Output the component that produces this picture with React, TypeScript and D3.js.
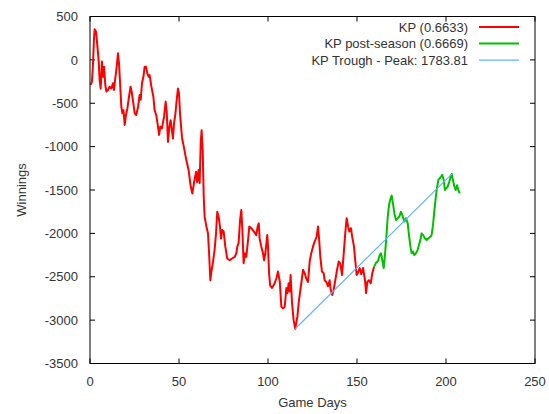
import * as React from "react";
import * as d3 from "d3";

// winnings per game day
const kpRegular: [number, number][] = [
  [0.4, -290], [1.1, -250], [1.7, -40], [2.2, 230], [2.6, 352], [3.4, 325], [4.1, 170], [4.9, -20],
  [5.4, -230], [6, -330], [6.7, -20], [7.3, -195], [7.9, -80], [8.6, -290], [9.2, -365], [10, -350],
  [11, -310], [12, -330], [12.9, -270], [13.5, -347], [14.2, -212], [15, -80], [15.7, 75], [16.3, -40],
  [16.9, -270], [17.6, -540], [18.2, -615], [18.8, -580], [19.5, -750], [20.2, -635], [21, -560],
  [21.9, -425], [22.8, -310], [23.4, -365], [24.2, -480], [25.1, -615], [26, -635], [27, -540],
  [27.9, -405], [28.5, -460], [29.2, -270], [30, -195], [30.7, -80], [31.5, -80], [32.2, -155],
  [33, -195], [33.5, -175], [34.5, -310], [35.6, -425], [36.3, -580], [37.2, -635], [38.2, -770],
  [38.8, -865], [39.5, -770], [40.4, -790], [41.6, -655], [42.5, -480], [43.1, -595], [43.8, -945],
  [44.6, -770], [45.3, -695], [46, -810], [46.6, -905], [47.2, -735], [47.9, -635], [48.9, -425],
  [49.4, -330], [50, -390], [50.7, -655], [51.7, -900], [52.5, -980], [54.1, -1155], [55.4, -1270],
  [56.6, -1460], [57.5, -1540], [58.4, -1420], [59.6, -1290], [60.2, -1410], [61, -1270], [61.6, -1420],
  [62.2, -960], [62.7, -810], [63.3, -1040], [63.9, -1580], [64.4, -1810], [65.4, -1920], [66.3, -2000],
  [67, -2270], [67.6, -2540], [68.2, -2440], [69.1, -2330], [70, -2190], [70.8, -2000], [71.5, -1750],
  [72.3, -1810], [73, -1920], [73.6, -2060], [74.3, -1960], [75.1, -1980], [76, -2150], [77.1, -2290],
  [78.5, -2310], [79.8, -2290], [81.3, -2270], [82.2, -2230], [82.8, -2150], [83.5, -2110], [84.3, -1850],
  [85, -1730], [85.6, -1960], [86.3, -2345], [87, -2230], [87.8, -2270], [88.8, -2075], [89.5, -1920],
  [90.6, -1940], [92.1, -1980], [93.4, -2020], [94.2, -1920], [94.8, -1885], [95.3, -2060], [96.2, -2150],
  [97.2, -2230], [97.8, -2310], [98.5, -2230], [99.1, -2115], [99.6, -2020], [100, -2150], [100.6, -2460],
  [101.2, -2600], [102.2, -2630], [103.4, -2590], [104.7, -2520], [105.6, -2440], [106.6, -2550],
  [107.5, -2845], [108.4, -2865], [109.4, -2845], [110.3, -2630], [110.9, -2690], [111.6, -2575],
  [112.2, -2670], [112.7, -2480], [113.5, -2805], [114.4, -3000], [115.3, -3100], [116.5, -2960],
  [117.4, -2770], [118.7, -2575], [119.7, -2420], [120.6, -2460], [121.5, -2520], [122.5, -2560],
  [123.4, -2325], [124.3, -2230], [125.3, -2150], [126.2, -2095], [127.3, -2040], [128.1, -1920],
  [128.7, -2065], [129.4, -2270], [130.3, -2440], [131.3, -2460], [131.8, -2540], [132.8, -2560],
  [133.7, -2610], [134.6, -2540], [135.2, -2650], [136.1, -2710], [136.9, -2650], [137.8, -2540],
  [138.8, -2420], [139.7, -2325], [140.6, -2345], [141.6, -2480], [142.7, -2190], [143.4, -2000],
  [144.2, -1825], [145, -1920], [145.7, -1980], [146.6, -1940], [147.3, -2040], [148.3, -2150],
  [149, -2310], [149.8, -2480], [150.6, -2450], [151.5, -2400], [152.4, -2470], [153.4, -2400],
  [154.5, -2540], [155.1, -2690], [155.8, -2560], [156.7, -2540], [157.7, -2575], [158.6, -2460],
  [159.6, -2385],
];

const kpPost: [number, number][] = [
  [159.6, -2385], [160.5, -2345], [161.2, -2330], [162, -2310], [162.7, -2250], [163.5, -2230],
  [164.2, -2310], [165, -2400], [165.7, -2250], [166.5, -2040], [167.2, -1825], [168, -1670],
  [168.9, -1595], [169.5, -1565], [170.2, -1655], [171, -1770], [171.9, -1845], [172.9, -1825],
  [173.8, -1805], [174.7, -1750], [175.7, -1805], [176.6, -1865], [177.5, -1825], [178.5, -1885],
  [179.2, -2020], [180, -2150], [180.7, -2230], [181.5, -2210], [182.2, -2250], [183.1, -2230],
  [184.1, -2190], [184.8, -2135], [185.6, -2075], [186.3, -2000], [187.2, -2020], [188.2, -2060],
  [189.1, -2075], [190, -2060], [191.2, -2040], [191.9, -2020], [192.7, -1905], [193.4, -1750],
  [194.2, -1595], [194.9, -1480], [195.7, -1385], [196.4, -1365], [197.2, -1345], [197.9, -1325],
  [198.7, -1385], [199.4, -1500], [200.1, -1480], [200.9, -1460], [201.6, -1425], [202.4, -1365],
  [203.2, -1316], [203.9, -1385], [204.7, -1460], [205.4, -1500], [206.2, -1445], [206.9, -1500],
  [207.7, -1540],
];

// trough (day, winnings) -> peak (day, winnings)
const troughPeak: [number, number][] = [
  [115.3, -3100],
  [203.2, -1316.19],
];

const xTicks = [0, 50, 100, 150, 200, 250];
const yTicks = [500, 0, -500, -1000, -1500, -2000, -2500, -3000, -3500];

const legendItems = [
  { label: "KP (0.6633)", color: "#ff0000", width: 2 },
  { label: "KP post-season (0.6669)", color: "#00c000", width: 2 },
  { label: "KP Trough - Peak: 1783.81", color: "#66b2ff", width: 1.2 },
];

const W = 549;
const H = 414;
const margin = { top: 16.5, right: 14, bottom: 50.5, left: 90 };
const font = "'Liberation Sans', Arial, sans-serif";
const textColor = "#333";

export default function App() {
  const x = d3.scaleLinear().domain([0, 250]).range([margin.left, W - margin.right]);
  const y = d3.scaleLinear().domain([-3500, 500]).range([H - margin.bottom, margin.top]);
  const line = d3
    .line<[number, number]>()
    .x((d) => x(d[0]))
    .y((d) => y(d[1]));

  const x0 = x.range()[0];
  const x1 = x.range()[1];
  const y0 = y.range()[0];
  const y1 = y.range()[1];
  const tick = 5;

  return (
    <svg
      width={W}
      height={H}
      style={{ position: "absolute", left: 0, top: 0, background: "#fff" }}
      fontFamily={font}
      fontSize={13}
    >
      {/* ticks, mirrored on all sides like gnuplot */}
      <g stroke="#000" strokeWidth={1}>
        {xTicks.map((t) => (
          <g key={"xt" + t}>
            <line x1={x(t)} x2={x(t)} y1={y0} y2={y0 - tick} />
            <line x1={x(t)} x2={x(t)} y1={y1} y2={y1 + tick} />
          </g>
        ))}
        {yTicks.map((t) => (
          <g key={"yt" + t}>
            <line x1={x0} x2={x0 + tick} y1={y(t)} y2={y(t)} />
            <line x1={x1} x2={x1 - tick} y1={y(t)} y2={y(t)} />
          </g>
        ))}
      </g>

      {xTicks.map((t) => (
        <text key={"xl" + t} x={x(t)} y={y0 + 22} textAnchor="middle" fill={textColor}>
          {t}
        </text>
      ))}
      {yTicks.map((t) => (
        <text key={"yl" + t} x={x0 - 12} y={y(t)} dy="0.36em" textAnchor="end" fill={textColor}>
          {t}
        </text>
      ))}

      <text x={(x0 + x1) / 2} y={H - 7} textAnchor="middle" fill={textColor}>
        Game Days
      </text>
      <text
        transform={`translate(26 ${(y0 + y1) / 2}) rotate(-90)`}
        textAnchor="middle"
        fill={textColor}
      >
        Winnings
      </text>

      <path d={line(kpRegular) ?? ""} fill="none" stroke="#ff0000" strokeWidth={2} strokeLinejoin="round" />
      <path d={line(kpPost) ?? ""} fill="none" stroke="#00c000" strokeWidth={2} strokeLinejoin="round" />
      <path d={line(troughPeak) ?? ""} fill="none" stroke="#66b2ff" strokeWidth={1.2} />

      {/* legend */}
      {legendItems.map((d, i) => {
        const ly = 27 + i * 16.6;
        return (
          <g key={d.label}>
            <text x={468} y={ly} dy="0.36em" textAnchor="end" fill={textColor}>
              {d.label}
            </text>
            <line x1={479} x2={519} y1={ly} y2={ly} stroke={d.color} strokeWidth={d.width} />
          </g>
        );
      })}

      <rect x={x0} y={y1} width={x1 - x0} height={y0 - y1} fill="none" stroke="#000" strokeWidth={1} />
    </svg>
  );
}
